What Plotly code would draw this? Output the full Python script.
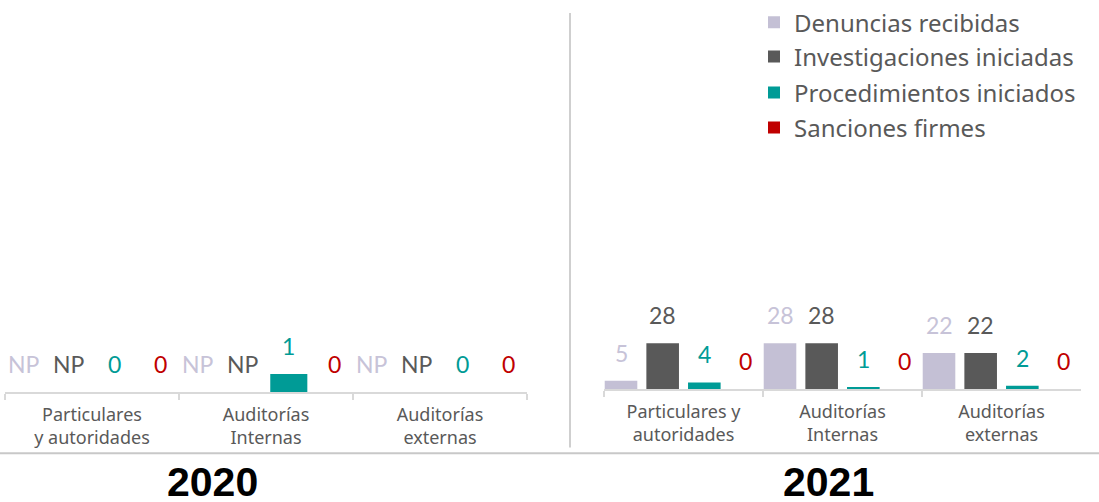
import plotly.graph_objects as go

# data
series = ["Denuncias recibidas", "Investigaciones iniciadas",
          "Procedimientos iniciados", "Sanciones firmes"]

categories_2020 = ["Particulares<br>y autoridades", "Auditorías<br>Internas", "Auditorías<br>externas"]
categories_2021 = ["Particulares y<br>autoridades", "Auditorías<br>Internas", "Auditorías<br>externas"]

# None = NP (no presentado)
denuncias_2020 = [None, None, None]
investigaciones_2020 = [None, None, None]
procedimientos_2020 = [0, 1, 0]
sanciones_2020 = [0, 0, 0]

denuncias_2021 = [5, 28, 22]
investigaciones_2021 = [28, 28, 22]
procedimientos_2021 = [4, 1, 2]
sanciones_2021 = [0, 0, 0]

years = ["2020", "2021"]

bar_colors = ["#c4c0d5", "#595959", "#009b96", "#c00000"]
label_colors = ["#c7c3d8", "#595959", "#009b96", "#c00000"]

W, H = 1099, 502
SLOT = 0.262


def px_x(p):
    return p / W


def px_y(p):
    return 1 - p / H


fig = go.Figure()

panels = [
    ("x", "y", categories_2020,
     [denuncias_2020, investigaciones_2020, procedimientos_2020, sanciones_2020], 0.213),
    ("x2", "y2", categories_2021,
     [denuncias_2021, investigaciones_2021, procedimientos_2021, sanciones_2021], 0.205),
]

annotations = []
for p, (xa, ya, cats, values, bw) in enumerate(panels):
    for k, name in enumerate(series):
        center = (k - 1.5) * SLOT
        vals = values[k]
        fig.add_trace(go.Bar(
            x=cats,
            y=[0 if v is None else v for v in vals],
            name=name,
            xaxis=xa, yaxis=ya,
            marker=dict(color=bar_colors[k], line=dict(width=0)),
            width=bw,
            offset=center - bw / 2,
            showlegend=(p == 1),
            legend="legend" if k == 0 else "legend%d" % (k + 1),
            hoverinfo="skip",
        ))
        # value labels above the bars
        for i, v in enumerate(vals):
            annotations.append(dict(
                xref=xa, yref=ya,
                x=i + center, y=0 if v is None else v,
                text="NP" if v is None else str(v),
                showarrow=False, yanchor="middle", yshift=28,
                font=dict(family="Lato", size=23, color=label_colors[k]),
            ))

# year titles
for xc, yr in zip([212, 828], years):
    annotations.append(dict(
        xref="paper", yref="paper", x=px_x(xc), y=px_y(481),
        text="<b>%s</b>" % yr, showarrow=False,
        xanchor="center", yanchor="middle",
        font=dict(family="Liberation Sans", size=41, color="#000000"),
    ))

axis_style = dict(
    type="category",
    showline=True, linecolor="#d9d9d9", linewidth=2,
    ticks="outside", tickson="boundaries", ticklen=6, tickcolor="#d9d9d9", tickwidth=2,
    tickfont=dict(family="Noto Sans", size=18, color="#595959"),
    ticklabelstandoff=5,
    showgrid=False, zeroline=False, fixedrange=True,
)
yaxis_style = dict(visible=False, showgrid=False, zeroline=False, fixedrange=True)

legend_style = dict(
    xanchor="left", yanchor="middle", x=px_x(754),
    font=dict(family="Noto Sans", size=24, color="#595959"),
    bgcolor="rgba(0,0,0,0)", borderwidth=0,
)

fig.update_layout(
    width=W, height=H,
    margin=dict(l=0, r=0, t=0, b=0),
    paper_bgcolor="white", plot_bgcolor="white",
    barmode="overlay",
    xaxis=dict(domain=[px_x(5), px_x(527)], anchor="y", **axis_style),
    yaxis=dict(domain=[px_y(389.5), 1], range=[0, 389.5 / 18.8], anchor="x", **yaxis_style),
    xaxis2=dict(domain=[px_x(604), px_x(1081)], anchor="y2", **axis_style),
    yaxis2=dict(domain=[px_y(386), 1], range=[0, 386 / 1.68], anchor="x2", **yaxis_style),
    legend=dict(y=px_y(10), **legend_style),
    legend2=dict(y=px_y(45), **legend_style),
    legend3=dict(y=px_y(82), **legend_style),
    legend4=dict(y=px_y(118), **legend_style),
    annotations=annotations,
    shapes=[
        dict(type="line", xref="paper", yref="paper",
             x0=px_x(570), x1=px_x(570), y0=px_y(446), y1=1,
             line=dict(color="#bfbfbf", width=1.5)),
        dict(type="line", xref="paper", yref="paper",
             x0=0, x1=1, y0=px_y(452), y1=px_y(452),
             line=dict(color="#c8c8c8", width=2)),
    ],
)

# drop the browser's default page margin so the figure sits at the top-left corner
fig.write_html("out.html", config={"displayModeBar": False},
               post_script="document.body.style.margin='0';")
